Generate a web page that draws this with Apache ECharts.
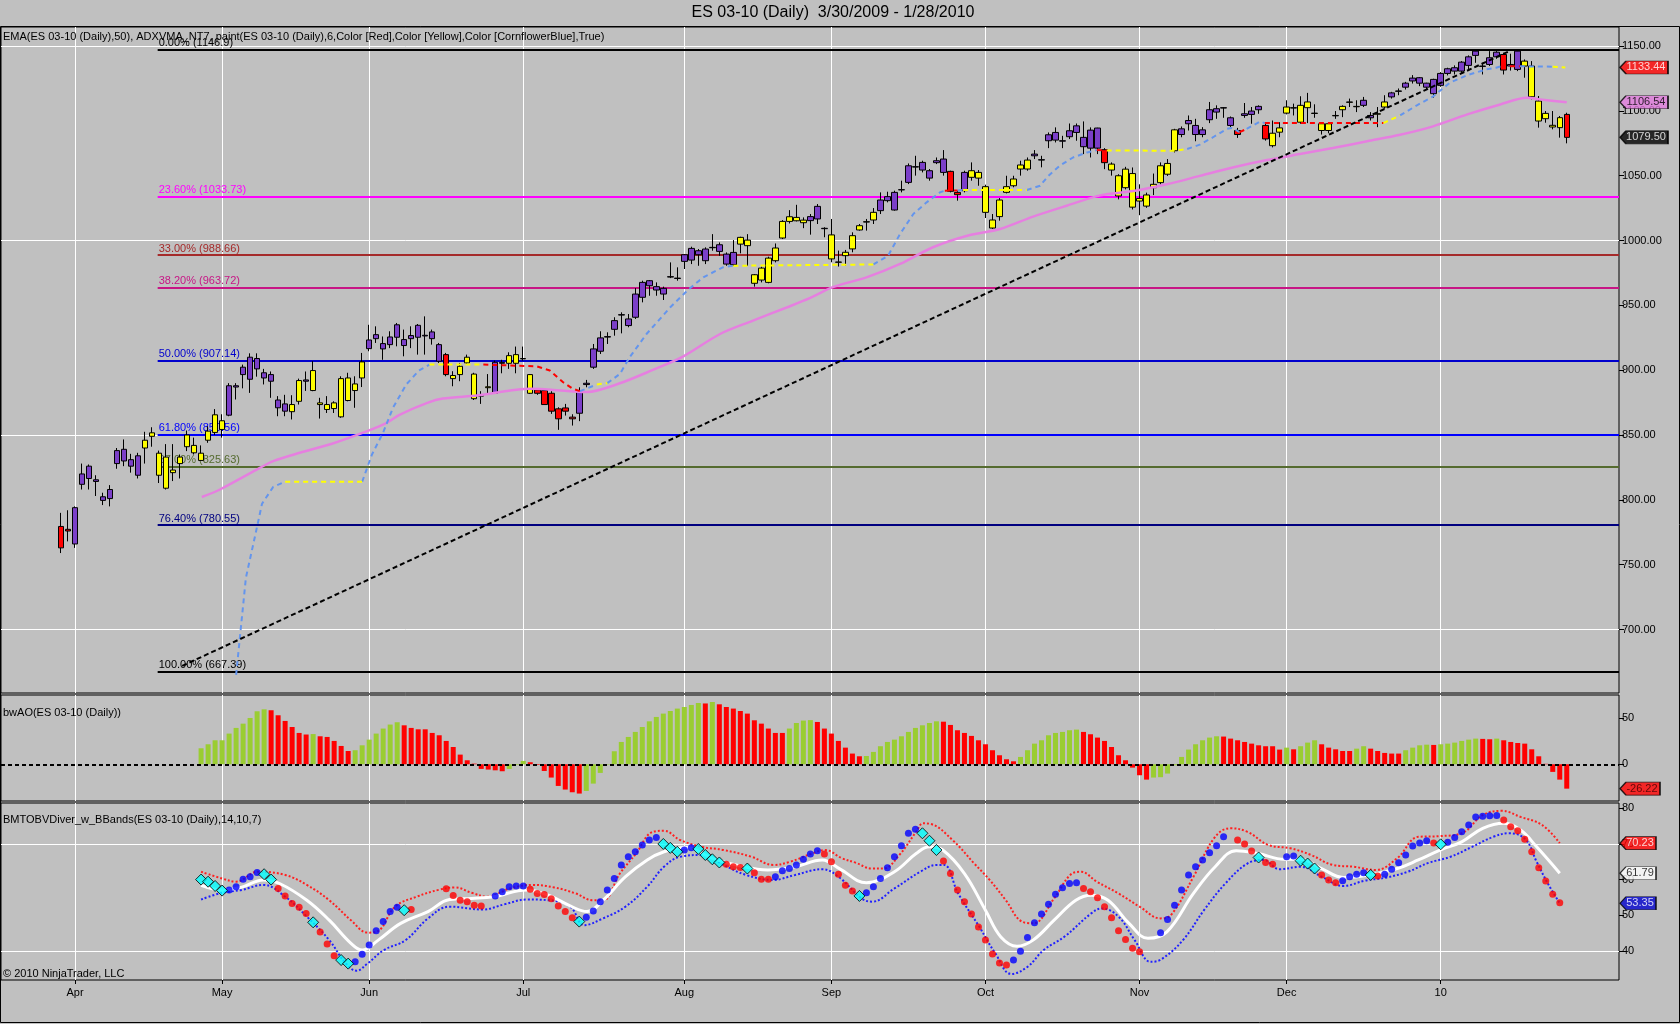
<!DOCTYPE html>
<html>
<head>
<meta charset="utf-8">
<title>ES 03-10 (Daily)</title>
<script src="https://cdn.jsdelivr.net/npm/echarts@6/dist/echarts.min.js"></script>
<style>
  html, body { margin: 0; padding: 0; background: #c0c0c0; }
  #chart { width: 1680px; height: 1024px; }
</style>
</head>
<body>
<div id="chart"></div>
<script>
// ---- data ----
const closedDays = ['2009-04-10', '2009-12-25', '2010-01-01']

// [open, close, low, high] per daily bar, 3/30/2009 .. 1/28/2010
const ohlc = [
  [779.5,763,759,790],[777.3,776,768,792],[766,794,763,795],[812,820,808,828],[816.5,826,808,827.3],
  [815.5,814.2,803,819],[799.6,802.4,796,805.5],[801,808,795,811.4],[828,838,824,840],[830,839,826,846.6],
  [826,831,821,835.5],[834,819,816.5,836.3],[840,846,828,852.5],[849,851.7,841,856],[836,819,813,838],
  [809,833,808,843],[823,821,814.5,843],[828,833,816.5,835],[841,850,837.6,853.5],[842,836.3,835,848],
  [836,830.4,830,842],[846,853,844,856.8],[852,865.6,850,870],[861,854.3,848,866],[865.3,888,864.5,890],
  [887,888,877.4,890],[896.6,902.3,886,904.3],[893,910,882.5,913],[909,901,895,913],[898,894,889,901],
  [896.6,891.5,878.7,899],[877,871,864.5,880],[874,868.4,864.5,881],[868,873.5,862,880.7],[876,892,873.5,893.5],
  [892.5,891.5,884,899],[884.3,899.7,883.8,907],[874.8,873.5,862.7,878.7],[869.7,873.5,867,880],[874.8,870.4,867,876],
  [864,893.5,863.3,895.3],[894,876.6,876,898],[884.3,889.4,871,895.3],[894,906.4,887,913.3],[916.6,923.3,914.6,935],
  [924.3,927.4,921,933.8],[920.5,916.4,908,926],[919.7,925.6,917,930],[925.4,935,918.4,936.4],[923.6,919,910.7,931.3],
  [924.3,926.7,917,933.8],[925.4,934.6,912,935.6],[926.9,926.4,912,941.5],[929.5,924.3,919.7,931.3],[919.7,906.9,905.6,921],
  [912,896.6,895.3,913.3],[895.9,893.5,887.6,899.2],[896.6,903,891.5,905.6],[905.6,910,904.3,912],[897,878,877,898],
  [880.8,880,874,883.8],[887.2,886.5,882,897],[882.2,906.1,881.7,907.4],[905.3,906,897.6,908],[905.3,911.2,901,913.8],
  [905.3,912,897.6,918.2],[909,908.7,907.4,918.2],[896.6,882.2,881.7,897],[884.8,882.2,881,886],[884.3,873.5,873.5,885.6],
  [882.2,868.4,866.3,883.8],[870.2,862.5,854,871.4],[870.9,868.4,865,874],[863.8,862.5,857.3,866],[866.8,884.3,860.7,886.8],
  [888.9,889.9,886.8,892.5],[902.3,916.4,901,920.2],[914.6,924.9,912.5,930],[925.9,925.5,920.2,929.2],[931.5,938.2,926.6,940.8],
  [942.8,942.5,928.4,944.6],[934.4,939.5,933.1,943.3],[940.8,958.7,939.5,963.3],[956.2,967.7,952.3,969],[965.1,969,957.4,969.5],
  [964.4,961.8,957.4,967.7],[963.1,958.7,954.1,964.4],[972.1,971.8,971,983.1],[971,970.7,969,979.3],[983.9,989,978,989.5],
  [984.9,993.9,981.8,995.2],[992.1,989,980.5,993.4],[984.4,993.4,981.8,994.7],[994.7,994.4,992.1,1004.9],[991.6,996.7,988.2,998.5],
  [989.5,981.8,980.5,990.8],[981.3,990.8,980.5,1000.3],[997.2,1002.4,990.1,1002.9],[1000.3,996,980.5,1004.9],[973.6,967,964.4,974.1],
  [969.5,978.7,967.7,979.8],[967.7,986.4,967,987.5],[984.4,994.2,983.1,997.7],[1001.9,1014.7,1001.1,1015.7],[1014.7,1018.3,1013.1,1023.4],
  [1015.2,1017.8,1014.7,1027.5],[1015.7,1013.7,1009.5,1017.8],[1015.3,1018.4,1004.5,1020.4],[1016.6,1026.3,1012.7,1028.1],[1009.4,1009.1,1002.5,1010.2],
  [1004.3,985.8,983.2,1016.6],[983.4,983.2,979.9,992.2],[988.3,990.9,980.6,992.7],[993.5,1003.7,990.9,1006.3],[1008.1,1011.4,1007.6,1012.7],
  [1014.5,1014.2,1007.6,1016.6],[1015.8,1021.7,1012.7,1025],[1023,1031.2,1020.4,1037.1],[1030.7,1033.8,1029.4,1037.6],[1037.1,1023.5,1023,1038.4],
  [1039.2,1039,1037.1,1046.1],[1044.8,1057.6,1043.5,1059.4],[1056.9,1056.6,1050,1065.3],[1054.3,1060.2,1052.5,1061.5],[1053.8,1048.1,1046.1,1055.1],
  [1060,1061.5,1058.9,1064],[1052.5,1062.8,1050,1069.7],[1053.3,1037.9,1037.1,1053.8],[1037.1,1035.3,1030.7,1038.4],[1038.4,1052.5,1037.1,1053.8],
  [1048.7,1053.8,1046.1,1060.2],[1052.5,1048.1,1042.2,1054.3],[1041.5,1021.7,1017.3,1043],[1015.8,1009.6,1008.9,1020.4],[1018.4,1031.2,1015.3,1032.7],
  [1037.1,1041.5,1036.3,1049.9],[1042.2,1047.4,1041,1049.9],[1055.1,1058.2,1050,1061.5],[1055.1,1062,1053.8,1064],[1065.3,1066.6,1062.8,1069.7],
  [1062.3,1062,1056.4,1065.3],[1076.9,1081.5,1071.2,1083.3],[1077.4,1083.3,1075.6,1087.2],[1076.9,1076.6,1071.2,1080.7],[1080,1084.6,1078.2,1090.2],
  [1083.3,1088.4,1076.9,1090.2],[1079.5,1072.3,1066.6,1091.8],[1071.2,1085.1,1064,1087.2],[1071.2,1086.7,1066.6,1086.9],[1070,1060,1055,1071.2],
  [1058.9,1054.3,1050,1060.2],[1049.9,1034.3,1031.7,1051.1],[1040.7,1055,1039.4,1056.8],[1051.6,1025.7,1023.9,1056.3],[1032.4,1030.4,1019.5,1043.3],
  [1026.5,1035.1,1025.2,1036.9],[1040.7,1043.3,1035,1051.6],[1044.6,1057.6,1043.3,1060.2],[1051.1,1059.4,1049.8,1062.8],[1069.2,1085.3,1067.9,1086.1],
  [1081.7,1086.1,1079.6,1087.9],[1090,1092.5,1084.8,1096.4],[1088.7,1081.7,1076.5,1093.8],[1081.7,1085.3,1079.6,1087.4],[1093.1,1100.8,1090.5,1106.8],
  [1099,1101.6,1093.8,1104.2],[1102.4,1102.1,1094.6,1102.9],[1094.6,1088.7,1087.4,1095.6],[1084.8,1081.7,1079.1,1086.8],[1096.4,1097.7,1094.6,1106],
  [1097.2,1099.8,1090,1102.9],[1100.8,1103.4,1097.7,1104.2],[1088.7,1078.3,1077,1091.2],[1073.1,1082.7,1071.8,1092.5],[1083.5,1086.8,1079.6,1091.2],
  [1098.2,1102.9,1097.2,1108.1],[1102.4,1102.1,1096.4,1105.5],[1104.2,1091.2,1090,1111.2],[1102.4,1106.8,1090.5,1113.8],[1098.2,1097.9,1094.6,1105],
  [1090,1084.8,1081.7,1091.2],[1084.8,1090,1082.7,1090.5],[1096.4,1096.1,1093.8,1099.8],[1100.8,1103.4,1095.1,1104.2],[1106.8,1106.5,1102.9,1109.4],
  [1103.4,1103.1,1099,1108.1],[1104.2,1108.1,1102.9,1110.7],[1096.4,1094.6,1092.5,1099],[1097.7,1097.4,1087.4,1102.9],[1102.9,1106.8,1101.6,1112],
  [1110.7,1113.8,1109.4,1114.6],[1115.3,1115,1112,1117.2],[1118.2,1121.3,1116.4,1122.3],[1123,1125.2,1121,1127.5],[1121.3,1125.5,1119,1126],
  [1121.3,1118.2,1116.4,1121.6],[1113.2,1124.2,1110.1,1124.7],[1119.6,1128.8,1118.5,1129.8],[1128.8,1132.4,1127.3,1133.2],[1130.6,1133.2,1128,1135],
  [1130.6,1137.5,1129.3,1138.3],[1135,1141.6,1131.4,1142.7],[1142.7,1146,1137,1146.8],[1134.5,1134.2,1128,1137],[1135.7,1140.9,1134.5,1146],
  [1141.6,1145.2,1140.1,1146],[1143.4,1131.4,1128,1144.7],[1134.5,1135.7,1131,1144],[1131.9,1146,1130.6,1146.9],[1138.3,1134.5,1125.5,1139.6],
  [1134.5,1110.8,1108.8,1138.3],[1107.5,1092.1,1087,1111.4],[1098,1093.9,1090.8,1099.8],[1088.8,1087.5,1085.7,1099.8],[1087,1094.7,1079.3,1096],
  [1097.2,1079.5,1074.9,1098.5]
]
// paint state per bar: r = red, y = yellow, p = purple
const barPaint = ('rr pppppppppp yyyyyyyyyyyy ppppppppp yy p yyyyyyyy ppppppppppp r yyyyyy pp yyyy rrrrrr ' +
  'ppppppppppppppppppppppp yyyyyyyyyy ppp yyyyyyy pppppppppp rr p yyyyyyyyy pppppppppp r yyyyyyyyyy ' +
  'pppppppp r ppp r yyyyyyyyyyyyy pp yy pppppppppppppppp r pp yyyyyy r').replace(/ /g, '')

// EMA(50) samples [bar, price]
const ema50 = [
  [20.1,802.2],[22.7,808],[28.4,824.7],[30.3,829.9],[34.1,836.3],[38.8,843.5],[43.7,853],[46.5,859.4],[48.4,865.8],
  [52.3,874.8],[54.5,878.1],[59.4,880.5],[67,885.6],[72.7,883.8],[75.1,883.2],[79.8,889.9],[84.5,900.2],[88.8,910.5],
  [94.1,927.9],[98.8,938.2],[103.7,948.5],[106.9,955.5],[110.2,964],[115.1,971.7],[119.8,981.9],[124.5,994.8],
  [129.4,1003.7],[134.1,1008.9],[138.8,1018.4],[143.6,1026.8],[148.4,1034.8],[153.1,1038.1],[157.9,1043.3],
  [162.6,1049.8],[167.3,1056.3],[172.2,1062],[176.9,1066.6],[181.6,1071.3],[186.5,1076.5],[191.2,1081.5],
  [195.9,1088],[200.8,1097.2],[205.5,1104.9],[209.3,1110],[211.2,1108.8],[215,1106.54]
]

// ADXVMA samples [bar, price] and the state of the segment starting there (b rising, y flat, r falling)
const adxvma = [
  [25,665],[26.4,740],[27.7,772],[28.7,797],[30.3,810],[32,814],[43,814],[44.4,835],[46,852],[47.4,871],[49.3,889],
  [51.1,899.7],[52.6,904.3],[60.3,904.3],[63.1,903.8],[67.9,903],[69.8,899.7],[71.7,890.7],[73.1,885.6],[74.1,883.8],
  [76.5,889],[78,890],[79.8,897.1],[81.2,910],[83.6,927.9],[87,948.5],[89.4,961.3],[91.7,971.6],[94.5,979.3],
  [96,980.5],[116,981.5],[118.1,988.3],[119.8,1005],[121.7,1020.4],[123.6,1029.4],[125.5,1037.1],[126.2,1038.4],
  [128,1038.6],[128.8,1038.9],[137.9,1038.9],[139.8,1042.2],[141,1050],[142.6,1057.6],[144.5,1064],[146.5,1067.9],
  [147.9,1069.7],[149.3,1069.4],[159.1,1069.2],[160.8,1070.5],[162.6,1073.9],[164.5,1079.6],[166.5,1086.1],
  [167.2,1086.8],[168.3,1083.5],[169.3,1086.1],[170.8,1090.5],[171.2,1091.8],[171.9,1090.5],[188.8,1090.5],
  [191.2,1096.4],[193.6,1104.2],[195.9,1111],[198.3,1121.6],[200.7,1127.3],[203.5,1131.9],[204.9,1133.2],
  [205.6,1134.2],[208.3,1134.3],[213,1134],[214.8,1133.44]
]
const adxvmaState = 'bbbbbybbbbbbyrrrrrrbybbbbbbbbybbbbbbrbybbbbbbryybbbbbrbbbrybbbbbbbrbyr'

const trendLine = [[17.3, 672], [206.8, 1146]]

const fibRatios = [0, 23.6, 33, 38.2, 50, 61.8, 67, 76.4, 100]
const fibValues = [1146.9, 1033.73, 988.66, 963.72, 907.14, 850.56, 825.63, 780.55, 667.39]
const fibStart = 13.8

const priceGrid = [700, 850, 1000, 1150]
const priceTicks = [700, 750, 800, 850, 900, 950, 1000, 1050, 1100, 1150]

// Awesome oscillator, from bar 20; g = green (rising), r = red (falling)
const aoStart = 20
const aoValues = [
  17.2,21.5,25.8,25.8,33,39.1,43.7,49.8,57,59.1, 58.1,52.7,46.6,40.1,33.7,32,32.5,30.1,29.4,25.1,
  19.7,14.3,15.1,20.4,26.5,33,38.4,42.7,45.2,41.9, 39.1,37.6,37.6,33.7,31.2,25.1,18.6,10.4,4.3,0.7,
  -5,-5.7,-6.5,-7.5,-5,-0.7,3.6,2.2,-0.7,-7.2, -14.3,-23.3,-27.2,-30.1,-31.5,-28.7,-20.8,-9.3,-0.5,14,
  24,29.4,34.8,40.1,46.2,50.9,54.5,57.3,59.9,61.6, 63.8,65.9,65.4,67,64.5,61.6,59.9,57.3,54.5,47.3,
  43.7,38.4,33.7,33.7,38.4,44.4,47,47.5,45.5,38.4, 33,25.1,17.9,11.5,8.6,8.9,13.3,19.4,24,26.5,
  30.1,34.8,39.1,41.9,44.4,46.2,45.8,42.3,36.6,33.7, 30.5,25.8,21.5,15.1,9.7,5.4,3.2,7.9,15.1,22.2,
  25.8,31.2,33.7,34.8,36.6,37.3,34.8,32.3,28.7,25.1, 18.6,9.7,4.3,-3.6,-11.8,-16.5,-14.3,-13.9,-10,-1,
  7.9,15.8,21.5,25.8,28.7,30.1,29.8,27.6,25.8,24, 22.2,20.4,19.4,19.4,15.8,17.9,16.1,19.4,23.3,25.8,
  21.5,17.9,16.1,14.3,14.3,16.8,19.4,16.8,14.3,12.2, 11.5,11.5,15.1,17.9,20.4,21.1,20.8,21.5,22.2,23.3,
  25.1,26.5,27.6,27.3,26.9,27.6,25.8,24,22.9,22.2, 16.1,8.6,0.5,-8.2,-16.5,-26.22
]
const aoState = ('gggggggggg rrrrrr g rrrrr ggggggg rrrrrrrrrrrrrrr ggg rrrrrrrr ggggggggggggggggg r g ' +
  'rrrrrrrrrr gggg rrrrrrr ggggggggggg rrrrrrrrrrr ggggggggg rrrrrrrrrr gggggggggg rrrrrrrrr g r ggg ' +
  'rrrrr gg rrrrr gggg r gggggg rr g rrrrrrrrrr').replace(/ /g, '')

// OBV oscillator dots, from bar 20; b = blue, r = red, c = divergence diamond, - = none
const obvStart = 20
const obvValues = [
  60,59.4,58.2,56.9,57.1,58,60.1,60.8,62,61.5, 60,57.5,55.4,53.3,52.2,50.5,48,45.3,41.9,38.6,
  37.4,36.4,36.9,39,41.6,45.6,48.2,51,52.2,51.4, 51.6,null,null,null,null,57.4,55.5,54.2,53.8,52.8,
  52.6,null,55.4,56.6,58,58.2,58.2,57.3,56.1,55.8, 54.6,52.6,51,49.3,48.2,49.4,51.2,53.8,57.1,60.3,
  64.1,66.4,67.8,69.7,71.1,71.8,70,68.9,67.8,68.3, 68.9,68.6,66.9,65.7,64.8,64.3,63.6,63.4,63.1,61.9,
  60.1,60.1,60.8,62.5,63.1,64.1,65.7,67.2,68.1,67.2, 65,61.5,58.4,56.8,55.4,56.3,58,60.3,63.3,66.4,
  69.5,73,74.1,73,70.9,68.3,65.2,61.7,57.1,53.8, 50.3,46.7,43,39.1,36.6,36,37.4,39.9,43.7,47.9,
  50.3,53.1,55.9,57.7,58.9,59.1,57.5,56.6,54.9,52.4, 49.3,45.6,43.2,40.7,39.7,null,null,45.1,48.8,52.8,
  57.1,61.3,63.6,65.5,67.5,69.5,72,null,71.1,70, 68,66.2,64.8,64.3,null,66.4,66.6,65.3,64.5,63.1,
  61.3,59.9,59.1,59.7,60.8,61.5,61.9,61.3,61,61.5, 62.9,64.7,66.9,69.4,70.3,70.9,70.3,69.9,70.5,71.8,
  73.4,75.3,77.6,77.8,77.9,78,76.7,74.8,73.7,71.3, 67.8,63.3,59.6,55.9,53.5
]
const obvState = ('ccccbbbbbccrrrrrcrrrccbbbbbbbcr----rrrrrr-bbbbbrrrrrrrcbbbbbbbbbbbcccbbccccrrrcrrrbbbbbbb' +
  'rrrrrcbbbbbbbbcccrrrrrrrrrrbbbbbbbbbbrrrrrrrrr--bbbbbbbbbb-rrrcrr-bbcccrrrbbbbcrbbbbbbbrcbbbbbbbbrrrrrrrrr')

const obvUpper = [
  [20,62.2],[23,60.3],[25,59.4],[28.1,62.2],[32,61.3],[35.1,58.5],[38.3,54.2],[41.4,48.6],[43.8,45.1],[45.3,45.6],
  [47.7,52.4],[50.8,55.2],[53.9,57.1],[56.3,57.8],[58.6,56.3],[60.9,55.2],[64.1,57.5],[67.3,58.5],[70.4,57.8],
  [73.5,56.1],[75.9,54.2],[77.4,54.2],[79.8,61.7],[82.1,67.3],[84.5,73.4],[86.1,73.7],[88.4,71.1],[91.5,69.2],
  [94.6,68.3],[98.6,66.4],[101.7,64.1],[104.1,65],[107.2,67.3],[109.1,68.3],[111.5,66],[113.5,64.7],[115.8,63.1],
  [117.4,63.1],[119.7,66.9],[122.1,73.4],[123.1,75.8],[124.2,75.6],[127.3,71.1],[130.4,64.5],[132.6,59.9],
  [134.9,54.2],[137.2,48.2],[138.8,47.7],[141.8,54.7],[144.1,61.3],[145.6,62.2],[147.9,59.4],[151,56.1],[154,52.4],
  [157,49.1],[158.6,50.3],[161.7,60.8],[164.8,72],[167,74.4],[169.4,73.4],[172.4,69.7],[175.5,68.8],[178.5,66.9],
  [181.6,64.1],[184.6,63.6],[187.7,62.7],[190.8,66],[193.8,72],[196.9,72.2],[200,73],[203,78.1],[205.7,79.3],
  [208.4,77.6],[211.5,75.3],[214,70.23]
]
const obvMid = [
  [20,58.4],[23,57.1],[25.7,57.8],[28.9,59.9],[31.2,58.9],[35.1,54.2],[38.3,48.6],[41.4,42.1],[43,40.2],[45.3,43],
  [48.5,47.7],[52.4,51],[55.5,54.4],[58.6,54.7],[61.8,55.2],[66.5,57.1],[69.6,55.6],[72.7,52.6],[75.1,51],[77.4,54.2],
  [80.6,60.8],[83.7,65.5],[86.1,67.8],[89.2,69],[93.1,65.9],[97,63.8],[100.9,62.7],[104.8,63.6],[108.7,65.5],
  [111.2,63],[115,59.1],[119,62.2],[122.1,67.3],[124,69.2],[125.9,68.3],[129,61.7],[132,51.4],[134.2,43.9],
  [136.5,41.3],[138.8,43],[141.8,48.6],[144.9,54.2],[147.1,55.6],[149.5,54.2],[152.5,47.7],[155.2,43.5],[157.9,45.3],
  [161.7,56.1],[164.8,63.6],[167.8,68.1],[170.9,67.3],[174.7,65.7],[177,65.7],[180,63.1],[183.1,60.6],[186.9,61.3],
  [190.8,63.1],[193.8,65.5],[196.9,68.3],[200,70.6],[203,74.4],[206,75.8],[208.4,73.9],[210.7,69.2],[214,61.79]
]
const obvLower = [
  [20,54.4],[23,56.3],[25.8,57.1],[28.9,58.5],[32,55.2],[35.1,49.6],[38.3,43],[40.6,36.6],[42.2,34.4],[43.8,36.5],
  [46.1,40.2],[49.2,43],[52.4,49.1],[55.5,52.4],[60.2,51.6],[63.4,53.1],[66.5,54.4],[69.6,54.2],[72.7,52.4],
  [74.7,47.2],[77.4,49.1],[80.6,52.4],[83.7,58],[86.1,63.6],[88.4,66.4],[91.5,66.9],[94.6,64.1],[97.8,61.3],
  [101.7,59.9],[104.8,61.3],[108.7,62.9],[111.2,60.5],[114.3,54.7],[115.8,53.8],[119,57.5],[122.7,62.2],[125,64.1],
  [126.1,64.1],[128.1,56.1],[131.1,46.8],[133.4,39.3],[135.7,33.5],[138,35.5],[140.3,40.2],[143.3,44],[147.1,50.5],
  [148.6,51.9],[151,49.6],[153.3,43],[155.6,36.9],[157.1,37.6],[160.2,43],[163.2,51.4],[166.3,59],[169.4,64.5],
  [171.7,65.5],[174,62.9],[177,63.6],[180,60.8],[183.1,58.2],[186.2,59.7],[189.3,60.6],[192.3,62.2],[195.3,64.7],
  [198.4,66.4],[201.5,69.2],[204.5,72],[206.8,73],[209.1,71.3],[210.7,65],[212.3,58.9],[214,53.35]
]
const obvTicks = [40, 50, 60, 70, 80]
const obvGrid = [40, 70]
const aoTicks = [0, 50]

// last values shown as tags on the right axes
const lastPrice = 1079.5
const lastAdxvma = 1133.44
const lastEma = 1106.54
const lastAo = -26.22
const lastObvUpper = 70.23
const lastObvMid = 61.79
const lastObvLower = 53.35

// ---- categories ----
function tradingDays(from, to) {
  const out = []
  const d = new Date(from + 'T00:00:00Z')
  const end = new Date(to + 'T00:00:00Z')
  while (d <= end) {
    const s = d.toISOString().slice(0, 10)
    const wd = d.getUTCDay()
    if (wd !== 0 && wd !== 6 && !closedDays.includes(s)) out.push(s)
    d.setUTCDate(d.getUTCDate() + 1)
  }
  return out
}
const dates = tradingDays('2009-03-30', '2010-01-28')
const monthNames = ['Jan', 'Feb', 'Mar', 'Apr', 'May', 'Jun', 'Jul', 'Aug', 'Sep', 'Oct', 'Nov', 'Dec']
const monthIdx = []
const monthLabel = {}
for (let i = 1; i < dates.length; i++) {
  if (dates[i].slice(5, 7) !== dates[i - 1].slice(5, 7)) {
    const m = +dates[i].slice(5, 7)
    monthIdx.push(i)
    monthLabel[i] = m === 1 ? dates[i].slice(2, 4) : monthNames[m - 1]
  }
}

// ---- styling ----
const FONT = 'Liberation Sans, Arial, sans-serif'
const xMin = -8.57
const xMax = 222.46
const paintColor = { r: '#ff0000', y: '#ffff00', p: '#7b3fc8' }
const adxColor = { b: '#6495ed', y: '#ffff00', r: '#ff0000' }
const aoColor = { g: '#9acd32', r: '#ff0000' }
const fibColor = ['#000000', '#ff00ff', '#a52a2a', '#c71585', '#0000cd', '#0000ff', '#556b2f', '#000080', '#000000']

const candleData = ohlc.map((d, i) => {
  const c = paintColor[barPaint[i]]
  return {
    value: [i, d[0], d[1], d[2], d[3]],
    itemStyle: { color: c, color0: c, borderColor: '#000', borderColor0: '#000', borderColorDoji: '#000' }
  }
})

function adxSeries(state) {
  const data = []
  let last = -1
  for (let k = 0; k < adxvma.length - 1; k++) {
    if (adxvmaState[k] === state) {
      if (last !== k) {
        if (data.length) data.push([adxvma[k][0], null])
        data.push(adxvma[k])
      }
      data.push(adxvma[k + 1])
      last = k + 1
    }
  }
  return {
    type: 'line', xAxisIndex: 0, yAxisIndex: 0, data, symbol: 'none', z: 4,
    lineStyle: { color: adxColor[state], width: 2, type: [5, 4] }, silent: true
  }
}

function gridLines(idx, ys) {
  const data = monthIdx.map(i => ({ xAxis: i })).concat(ys.map(v => ({ yAxis: v })))
  return {
    type: 'line', xAxisIndex: idx, yAxisIndex: idx, data: [], silent: true,
    markLine: {
      z: 0, silent: true, symbol: ['none', 'none'], label: { show: false },
      lineStyle: { color: '#ffffff', width: 1, type: 'solid' }, data
    }
  }
}

function tag(idx, value, text, bg, fg, w) {
  return {
    type: 'scatter', xAxisIndex: idx, yAxisIndex: idx, clip: false, silent: true, z: 10,
    data: [[xMax, value]],
    symbol: 'path://M0,6 L6,0 L' + w + ',0 L' + w + ',12 L6,12 Z',
    symbolSize: [w, 13], symbolOffset: [w / 2 + 1, 0],
    itemStyle: { color: bg, borderColor: '#000', borderWidth: 1 },
    label: { show: true, position: 'inside', formatter: text, color: fg, fontSize: 11, fontFamily: FONT, offset: [2, 0] }
  }
}

function xAxisFor(idx, withLabels) {
  return {
    type: 'value', gridIndex: idx, min: xMin, max: xMax,
    axisLine: { show: false, onZero: false }, splitLine: { show: false },
    axisTick: { show: withLabels, customValues: monthIdx, length: 4, lineStyle: { color: '#000' } },
    axisLabel: {
      show: withLabels, customValues: monthIdx, color: '#000', fontSize: 11, fontFamily: FONT, margin: 7,
      formatter: v => monthLabel[Math.round(v)] || ''
    }
  }
}

function yAxisFor(idx, min, max, ticks, fmt) {
  return {
    type: 'value', gridIndex: idx, position: 'right', min, max,
    axisLine: { show: false, onZero: false }, splitLine: { show: false },
    axisTick: { show: true, inside: false, length: 5, customValues: ticks, lineStyle: { color: '#000' } },
    axisLabel: { customValues: ticks, color: '#000', fontSize: 11, fontFamily: FONT, margin: 3, formatter: fmt }
  }
}

const scatterBy = (state, symbol, size, color, border) => ({
  type: 'scatter', xAxisIndex: 2, yAxisIndex: 2, symbol, symbolSize: size, z: 5, silent: true,
  itemStyle: { color, borderColor: border ? '#000' : color, borderWidth: border ? 1 : 0 },
  data: obvValues.map((v, k) => [obvStart + k, v]).filter((p, k) => obvState[k] === state && p[1] !== null)
})

const option = {
  backgroundColor: '#c0c0c0',
  animation: false,
  textStyle: { fontFamily: FONT },
  grid: [
    { left: 1, right: 61, top: 27, height: 666, show: true, borderColor: '#000', borderWidth: 1, backgroundColor: 'transparent' },
    { left: 1, right: 61, top: 695, height: 106, show: true, borderColor: '#000', borderWidth: 1, backgroundColor: 'transparent' },
    { left: 1, right: 61, top: 803, height: 177, show: true, borderColor: '#000', borderWidth: 1, backgroundColor: 'transparent' }
  ],
  xAxis: [xAxisFor(0, false), xAxisFor(1, false), xAxisFor(2, true)],
  yAxis: [
    yAxisFor(0, 651.1, 1164.6, priceTicks, v => v.toFixed(2)),
    yAxisFor(1, -39.5, 74.5, aoTicks, v => String(v)),
    yAxisFor(2, 31.8, 81.5, obvTicks, v => String(v))
  ],
  graphic: [
    { type: 'rect', silent: true, z: 100, shape: { x: 0.5, y: 26.5, width: 1679, height: 996 },
      style: { fill: 'none', stroke: '#000', lineWidth: 1 } },
    { type: 'text', silent: true, z: 100, x: 833, y: 13,
      style: { text: 'ES 03-10 (Daily)  3/30/2009 - 1/28/2010', font: '16px ' + FONT, fill: '#000', align: 'center', verticalAlign: 'middle' } },
    { type: 'text', silent: true, z: 100, x: 3, y: 37,
      style: { text: 'EMA(ES 03-10 (Daily),50), ADXVMA_NT7, paint(ES 03-10 (Daily),6,Color [Red],Color [Yellow],Color [CornflowerBlue],True)',
        font: '11px ' + FONT, fill: '#000', verticalAlign: 'middle' } },
    { type: 'text', silent: true, z: 100, x: 3, y: 713,
      style: { text: 'bwAO(ES 03-10 (Daily))', font: '11px ' + FONT, fill: '#000', verticalAlign: 'middle' } },
    { type: 'text', silent: true, z: 100, x: 3, y: 820,
      style: { text: 'BMTOBVDiver_w_BBands(ES 03-10 (Daily),14,10,7)', font: '11px ' + FONT, fill: '#000', verticalAlign: 'middle' } },
    { type: 'text', silent: true, z: 100, x: 3, y: 974,
      style: { text: '\u00a9 2010 NinjaTrader, LLC', font: '11px ' + FONT, fill: '#000', verticalAlign: 'middle' } }
  ],
  series: [
    gridLines(0, priceGrid),
    gridLines(1, []),
    gridLines(2, obvGrid),
    {
      name: 'ES 03-10', type: 'candlestick', xAxisIndex: 0, yAxisIndex: 0, z: 3, silent: true,
      encode: { x: 0, y: [1, 2, 3, 4] },
      barWidth: 6,
      data: candleData,
      markLine: {
        z: 1, silent: true, symbol: ['none', 'none'],
        data: fibValues.map((v, k) => [
          {
            coord: [fibStart, v],
            lineStyle: { color: fibColor[k], width: 2, type: 'solid' },
            label: { show: true, position: 'insideStartTop', distance: 1, color: fibColor[k], fontSize: 11, fontFamily: FONT,
              formatter: fibRatios[k].toFixed(2) + '% (' + String(v) + ')' }
          },
          { coord: [xMax, v] }
        ])
      }
    },
    {
      name: 'EMA', type: 'line', xAxisIndex: 0, yAxisIndex: 0, z: 4, silent: true, smooth: 0.3,
      data: ema50, symbol: 'none', lineStyle: { color: '#e67fe0', width: 2.5 }
    },
    adxSeries('b'), adxSeries('y'), adxSeries('r'),
    {
      name: 'Trend', type: 'line', xAxisIndex: 0, yAxisIndex: 0, z: 5, silent: true,
      data: trendLine, symbol: 'none', lineStyle: { color: '#000', width: 2, type: [5, 3] }
    },
    {
      name: 'bwAO', type: 'bar', xAxisIndex: 1, yAxisIndex: 1, barWidth: 5, silent: true,
      data: aoValues.map((v, k) => ({ value: [aoStart + k, v], itemStyle: { color: aoColor[aoState[k]] } })),
      markLine: {
        z: 5, silent: true, symbol: ['none', 'none'], label: { show: false },
        lineStyle: { color: '#000', width: 2, type: [4, 3] },
        data: [{ yAxis: 0 }]
      }
    },
    {
      name: 'Upper', type: 'line', xAxisIndex: 2, yAxisIndex: 2, z: 3, silent: true, smooth: 0.4,
      data: obvUpper, symbol: 'none', lineStyle: { color: '#ff2020', width: 2, type: [2, 2] }
    },
    {
      name: 'Lower', type: 'line', xAxisIndex: 2, yAxisIndex: 2, z: 3, silent: true, smooth: 0.4,
      data: obvLower, symbol: 'none', lineStyle: { color: '#2020ff', width: 2, type: [2, 2] }
    },
    {
      name: 'Mid', type: 'line', xAxisIndex: 2, yAxisIndex: 2, z: 3, silent: true, smooth: 0.4,
      data: obvMid, symbol: 'none', lineStyle: { color: '#ffffff', width: 3 }
    },
    scatterBy('b', 'circle', 7, '#0000ff', false),
    scatterBy('r', 'circle', 7, '#ff0000', false),
    scatterBy('c', 'diamond', 11, '#00ffff', true),
    tag(0, lastAdxvma, lastAdxvma.toFixed(2), '#ff0000', '#ffffff', 48),
    tag(0, lastEma, lastEma.toFixed(2), '#e27cde', '#000000', 48),
    tag(0, lastPrice, lastPrice.toFixed(2), '#000000', '#ffffff', 48),
    tag(1, lastAo, lastAo.toFixed(2), '#ff0000', '#400000', 40),
    tag(2, lastObvUpper, lastObvUpper.toFixed(2), '#ff0000', '#ffffff', 36),
    tag(2, lastObvMid, lastObvMid.toFixed(2), '#ffffff', '#000000', 36),
    tag(2, lastObvLower, lastObvLower.toFixed(2), '#0000cd', '#ffffff', 36)
  ]
}

const chart = echarts.init(document.getElementById('chart'))
chart.setOption(option)
</script>
</body>
</html>
